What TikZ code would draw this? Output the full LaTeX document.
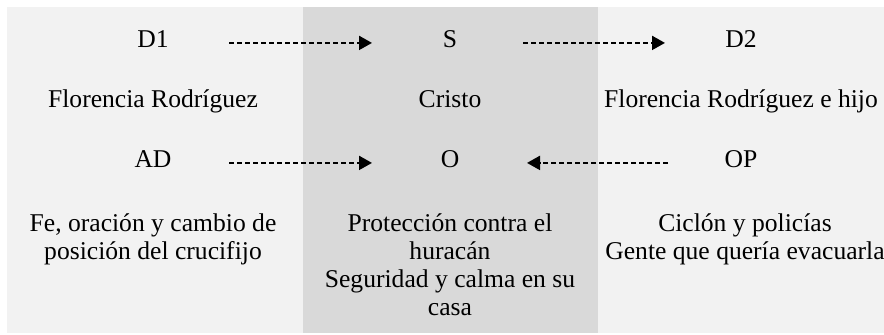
\documentclass[tikz,border=0pt]{standalone}
\usepackage{fontspec}
\setmainfont{Liberation Serif}
\usetikzlibrary{arrows.meta}
\definecolor{bglight}{HTML}{F2F2F2}
\definecolor{bgdark}{HTML}{D9D9D9}
\begin{document}
\begin{tikzpicture}[x=0.5pt,y=-0.5pt,
  lbl/.style={inner sep=0pt, anchor=base, align=center,
    font=\fontsize{12.8pt}{14pt}\selectfont},
  darr/.style={line width=1pt, dash pattern=on 2.5pt off 1.5pt,
    -{Triangle[length=6.5pt,width=7pt]}}]
  \clip (0,0) rectangle (884,334);
  \fill[white] (0,0) rectangle (884,334);
  \fill[bglight] (7,7) rectangle (884,333);
  \fill[bgdark] (303,7) rectangle (598,333);
  % row 1
  \node[lbl] (d1) at (153,47.5) {D1};
  \node[lbl] (s)  at (450,47.5) {S};
  \node[lbl] (d2) at (741,47.5) {D2};
  % row 2
  \node[lbl] (a1) at (153,107.5) {Florencia Rodríguez};
  \node[lbl] (c)  at (450,107.5) {Cristo};
  \node[lbl] (a2) at (741,107.5) {Florencia Rodríguez e hijo};
  % row 3
  \node[lbl] (ad) at (153,167.5) {AD};
  \node[lbl] (o)  at (450,167.5) {O};
  \node[lbl] (op) at (741,167.5) {OP};
  % row 4 (base anchor = baseline of the last line)
  \node[lbl] (fe)   at (153,259) {Fe, oración y cambio de\\posición del crucifijo};
  \node[lbl] (prot) at (450,315) {Protección contra el\\huracán\\Seguridad y calma en su\\casa};
  \node[lbl] (cic)  at (745,259) {Ciclón y policías\\Gente que quería evacuarla};
  % arrows
  \draw[darr, shorten <=38pt, shorten >=39pt] (d1.mid) -- (s.mid);
  \draw[darr, shorten <=36.5pt, shorten >=38pt] (s.mid) -- (d2.mid);
  \draw[darr, shorten <=38pt, shorten >=39pt] (ad.mid) -- (o.mid);
  \draw[darr, shorten <=36.5pt, shorten >=38.5pt] (op.mid) -- (o.mid);
\end{tikzpicture}
\end{document}
